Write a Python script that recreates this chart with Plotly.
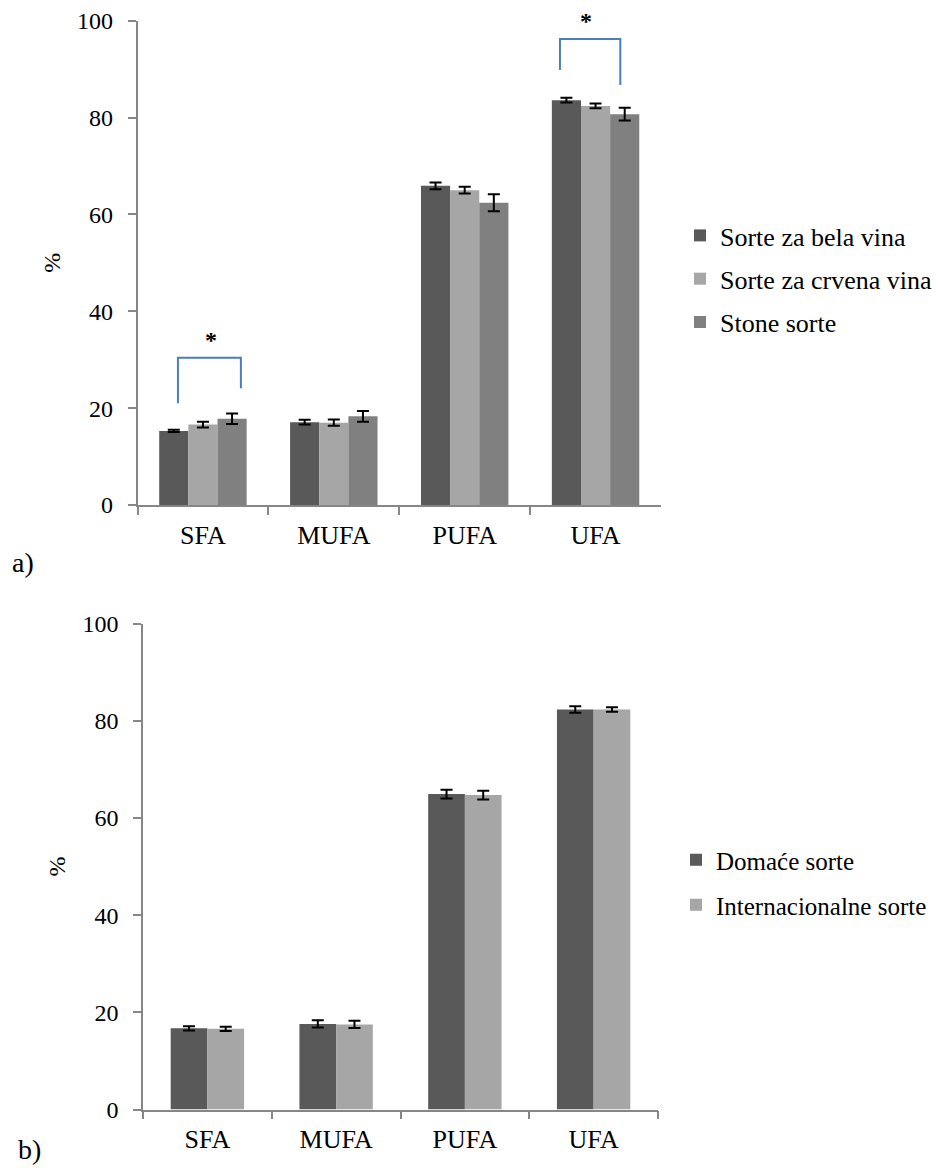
import plotly.graph_objects as go

# ---------------- data ----------------
categories = ["SFA", "MUFA", "PUFA", "UFA"]

# panel a)
white_names = "Sorte za bela vina"
red_names = "Sorte za crvena vina"
table_names = "Stone sorte"
white_vals = [15.3, 17.1, 65.9, 83.6]
white_err = [0.25, 0.5, 0.7, 0.5]
red_vals = [16.6, 17.0, 65.0, 82.4]
red_err = [0.6, 0.65, 0.7, 0.5]
table_vals = [17.8, 18.3, 62.4, 80.7]
table_err = [1.1, 1.1, 1.75, 1.3]

# panel b)
dom_name = "Domaće sorte"
int_name = "Internacionalne sorte"
dom_vals = [16.7, 17.6, 64.9, 82.3]
dom_err = [0.45, 0.75, 0.9, 0.65]
int_vals = [16.6, 17.5, 64.7, 82.3]
int_err = [0.45, 0.75, 0.9, 0.45]

y_ticks = [0, 20, 40, 60, 80, 100]

# significance brackets (panel a): category index, left/right offsets, top, left end, right end, star height
sig_cat = [0, 3]
sig_left = [-0.191, -0.272]
sig_right = [0.29, 0.189]
sig_top = [30.4, 96.2]
sig_left_end = [21.0, 89.8]
sig_right_end = [24.1, 86.7]
sig_star_dx = [0.061, -0.076]
sig_star_y = [34.9, 100.7]

# ---------------- styling / geometry ----------------
FONT = "Liberation Serif, Times New Roman, serif"
C_DARK = "#595959"
C_LIGHT = "#a6a6a6"
C_MID = "#808080"
AXIS_C = "#868686"
BRACKET_C = "#4a7ebb"
Y_MAX = 100.0

# the page body has an 8px margin; lay the figure out in window pixels
PAGE_W, PAGE_H, BODY_M = 943, 1168, 8
FIG_W, FIG_H = PAGE_W - BODY_M, PAGE_H - BODY_M


def fx(px):
    return (px - BODY_M) / FIG_W


def fy(py):
    return 1 - (py - BODY_M) / FIG_H


fig = go.Figure()

# panel a bars
w_a = 0.2227
for i, (name, vals, err, col) in enumerate([
        (white_names, white_vals, white_err, C_DARK),
        (red_names, red_vals, red_err, C_LIGHT),
        (table_names, table_vals, table_err, C_MID)]):
    fig.add_trace(go.Bar(
        x=categories, y=vals, name=name,
        width=w_a, offset=-1.5 * w_a + i * w_a,
        marker=dict(color=col, line=dict(width=0)),
        error_y=dict(type="data", array=err, visible=True, color="black",
                     thickness=2, width=6),
        xaxis="x", yaxis="y", legend="legend", legendgroup=f"a{i}",
    ))

# panel b bars
w_b = 0.285
for i, (name, vals, err, col) in enumerate([
        (dom_name, dom_vals, dom_err, C_DARK),
        (int_name, int_vals, int_err, C_LIGHT)]):
    fig.add_trace(go.Bar(
        x=categories, y=vals, name=name,
        width=w_b, offset=-w_b + i * w_b,
        marker=dict(color=col, line=dict(width=0)),
        error_y=dict(type="data", array=err, visible=True, color="black",
                     thickness=2, width=6),
        xaxis="x2", yaxis="y2", legend="legend2", legendgroup=f"b{i}",
    ))

shapes = []
annotations = []
for c, l, r, t, le, re, sdx, sy in zip(sig_cat, sig_left, sig_right, sig_top,
                                        sig_left_end, sig_right_end, sig_star_dx, sig_star_y):
    xl, xr = c + l, c + r
    shapes.append(dict(type="path", xref="x", yref="y",
                       path=f"M {xl},{le} L {xl},{t} L {xr},{t} L {xr},{re}",
                       line=dict(color=BRACKET_C, width=2)))
    annotations.append(dict(x=c + sdx, y=sy / Y_MAX, xref="x", yref="y domain",
                            text="<b>*</b>", showarrow=False, yanchor="middle", yshift=-4,
                            font=dict(family=FONT, size=24, color="black")))

annotations.append(dict(x=fx(23), y=fy(562), xref="paper", yref="paper",
                        text="a)", showarrow=False, xanchor="center", yanchor="middle",
                        font=dict(family=FONT, size=28, color="black")))
annotations.append(dict(x=fx(29), y=fy(1149), xref="paper", yref="paper",
                        text="b)", showarrow=False, xanchor="center", yanchor="middle",
                        font=dict(family=FONT, size=28, color="black")))

xaxis_common = dict(type="category", showline=True, linecolor=AXIS_C, linewidth=1.5,
                    ticks="outside", tickson="boundaries", ticklen=8, tickcolor=AXIS_C,
                    tickwidth=1.5, showgrid=False, zeroline=False, automargin=False,
                    tickfont=dict(family=FONT, size=26, color="black"),
                    ticklabelstandoff=6, range=[-0.5, 3.5], fixedrange=True)
yaxis_common = dict(range=[0, Y_MAX], tickvals=y_ticks, showline=True, linecolor=AXIS_C,
                    linewidth=1.5, ticks="outside", ticklen=8, tickcolor=AXIS_C,
                    tickwidth=1.5, showgrid=False, zeroline=False, automargin=False,
                    tickfont=dict(family=FONT, size=24, color="black"),
                    ticklabelstandoff=10,
                    title=dict(text="%", font=dict(family=FONT, size=24, color="black"),
                               standoff=10))

legend_common = dict(bgcolor="rgba(0,0,0,0)", borderwidth=0, xanchor="left", yanchor="top",
                     itemclick=False, itemdoubleclick=False, traceorder="grouped")

fig.update_layout(
    template="none",
    width=FIG_W, height=FIG_H,
    margin=dict(l=0, r=0, t=0, b=0, autoexpand=False),
    paper_bgcolor="white", plot_bgcolor="white",
    barmode="group",
    showlegend=True,
    xaxis=dict(domain=[fx(137.5), fx(661)], anchor="y", **xaxis_common),
    yaxis=dict(domain=[fy(505), fy(20.7)], anchor="x", **yaxis_common),
    xaxis2=dict(domain=[fx(143), fx(658)], anchor="y2", **xaxis_common),
    yaxis2=dict(domain=[fy(1109.5), fy(623.5)], anchor="x2", **yaxis_common),
    legend=dict(x=fx(680), y=fy(212), tracegroupgap=6.5,
                font=dict(family=FONT, size=26, color="black"), **legend_common),
    legend2=dict(x=fx(676), y=fy(837), tracegroupgap=9.5,
                 font=dict(family=FONT, size=25, color="black"), **legend_common),
    shapes=shapes,
    annotations=annotations,
)

fig.write_html("out.html")
